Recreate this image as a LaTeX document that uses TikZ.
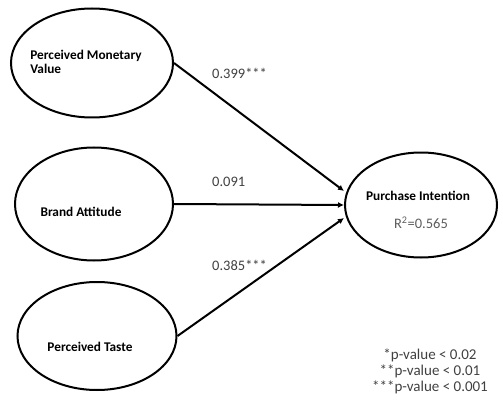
\documentclass[tikz,border=0pt]{standalone}
\usepackage{fontspec}
\setmainfont{Carlito}
\usepackage{xcolor}
\usetikzlibrary{shapes.geometric,arrows.meta}

\definecolor{numgray}{HTML}{404040}

\begin{document}
\begin{tikzpicture}[
  x=1pt, y=-1pt,
  construct/.style={draw, ellipse, line width=2pt, inner sep=0pt},
  ctext/.style={align=left, inner sep=0pt, font=\bfseries\fontsize{13.3}{14}\selectfont},
  coef/.style={anchor=west, inner sep=0pt, text=numgray, font=\fontsize{14.5}{16}\selectfont},
  link/.style={draw, line width=2pt, -{Latex[length=6pt,width=6pt]}}
]
\useasboundingbox (0,0) rectangle (503,401);

\node[construct, minimum width=162pt, minimum height=109pt] (pmv) at (92,63) {};
\node[construct, minimum width=158pt, minimum height=113pt] (ba) at (94,204) {};
\node[construct, minimum width=159pt, minimum height=108pt] (taste) at (97,336) {};
\node[construct, minimum width=152pt, minimum height=105pt] (pi) at (421,205) {};

\node[ctext] (pmvtext) at (86,62) {Perceived Monetary\\Value};
\node[ctext] (batext) at (81,212) {Brand Attitude};
\node[ctext] (tastetext) at (90,347) {Perceived Taste};
\node[ctext] (pitext) at (418,196) {Purchase Intention};
\node[inner sep=0pt, text=numgray!85, font=\fontsize{14.5}{16}\selectfont] (rsq) at (421,223) {R\textsuperscript{2}=0.565};

\path[link] (pmv.east) -- ([yshift=14pt]pi.west);
\path[link] (ba.east) -- (pi.west);
\path[link] (taste.east) -- ([yshift=-13pt]pi.west);

\node[coef] (c1) at (212,73) {0.399***};
\node[coef] (c2) at (212,182) {0.091};
\node[coef] (c3) at (212,265) {0.385***};

% significance levels
\node[align=center, inner sep=0pt, text=numgray, font=\fontsize{15}{16}\selectfont] (legend) at (430,371)
  {*p-value < 0.02\\**p-value < 0.01\\***p-value < 0.001};
\end{tikzpicture}
\end{document}
